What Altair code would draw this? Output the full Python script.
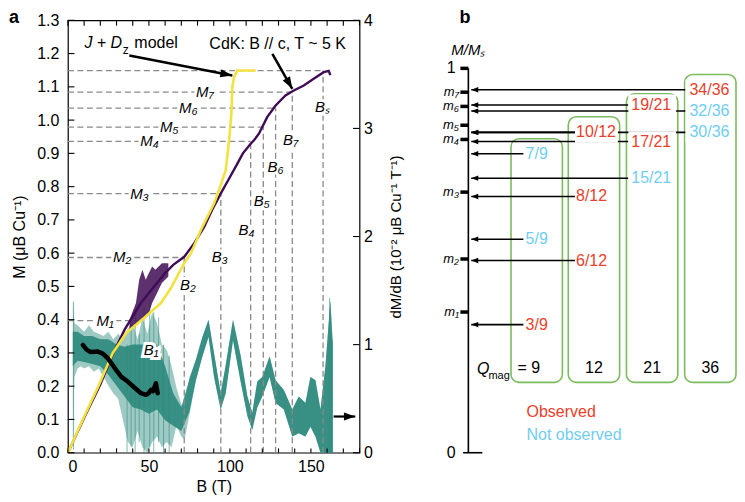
import math
import altair as alt
import pandas as pd

FONT = "Liberation Sans"
PURPLE = "#3f0d55"
YELLOW = "#f1e23f"
TEAL = "#2b8a7c"
RED = "#e8412b"
BLUE = "#6fcdf2"
GREEN = "#7cbc5e"
DASH = "#8a8a8a"

W_A, H_A = 292, 433
W_B = 268
B_MAX, M_MAX, V_MAX = 180, 1.3, 4
Q_X_MAX, Q_Y_MAX = 4.6, 1.125

# ---------------- panel a data ----------------
cdk_B = [0, 10, 20, 28, 35, 40, 45, 50, 55, 60, 65, 71.8, 78, 84.1, 89, 94.3, 99, 104.6, 108,
         112.8, 115, 117.9, 123, 128.2, 134.3, 139.4, 145.6, 151.7, 157.9, 161, 162]
cdk_M = [0, 0.105, 0.205, 0.3, 0.37, 0.41, 0.45, 0.48, 0.51, 0.54, 0.565, 0.589, 0.63, 0.679, 0.73,
         0.779, 0.82, 0.869, 0.9, 0.929, 0.94, 0.959, 1.009, 1.044, 1.074, 1.089, 1.104, 1.124,
         1.144, 1.148, 1.135]
noise_B = [38, 42, 44, 46, 48, 50, 52, 54, 56, 58, 62]
noise_lo = [0.37, 0.38, 0.39, 0.40, 0.41, 0.42, 0.45, 0.47, 0.49, 0.51, 0.53]
noise_hi = [0.40, 0.45, 0.52, 0.55, 0.52, 0.54, 0.56, 0.55, 0.56, 0.57, 0.57]

model_B = [0, 9.2, 18.8, 27.7, 36, 47, 57.4, 63.6, 71.8, 76, 82, 90.2, 94, 97.4, 99.5, 100.9,
           101.5, 102.5, 104.6, 116]
model_M = [0, 0.1, 0.2, 0.3, 0.36, 0.405, 0.45, 0.495, 0.57, 0.6, 0.669, 0.749, 0.8, 0.849,
           0.939, 1.019, 1.099, 1.129, 1.149, 1.149]

black_B = [9.2, 11.5, 14, 18.5, 21.5, 24.6, 27, 29.7, 33, 36.9, 41, 45.1, 48.2, 50, 51.3, 52.5,
           54.3, 55, 55.4]
black_M = [0.324, 0.31, 0.303, 0.304, 0.298, 0.284, 0.268, 0.249, 0.228, 0.214, 0.196, 0.179,
           0.174, 0.18, 0.189, 0.185, 0.209, 0.19, 0.179]

# dM/dB scatter envelope (right axis units)
teal_B = [3, 4, 6, 8, 10, 13, 16, 19, 22, 25, 28, 31, 34, 37, 40, 43, 46, 49, 52, 55, 58, 61, 64,
          67, 70, 72, 75, 79, 83, 86.8, 90.2, 94.3, 97.4, 101.9, 106.6, 110.8, 113.8, 116.9, 120,
          124.5, 128.2, 133.3, 138.5, 142.5, 146.6, 149.7, 152.8, 155.9, 159, 162, 163.5]
teal_lo = [0.05, 0.70, 0.78, 0.80, 0.78, 0.80, 0.75, 0.78, 0.70, 0.62, 0.55, 0.50, 0.30, 0.10,
           0.05, 0.20, 0.05, 0.00, 0.10, 0.15, 0.05, 0.10, 0.05, 0.25, 0.15, 0.12, 0.35, 0.67,
           0.89, 1.07, 0.70, 0.40, 0.55, 1.04, 0.66, 0.34, 0.21, 0.42, 0.52, 0.70, 0.46, 0.40,
           0.15, 0.18, 0.15, 0.24, 0.15, 0.00, 0.00, 0.00, 0.00]
teal_hi = [1.40, 1.20, 1.18, 1.15, 1.12, 1.18, 1.12, 1.10, 1.08, 1.12, 1.05, 1.10, 1.05, 1.15,
           1.20, 1.05, 1.25, 1.10, 1.30, 1.20, 1.00, 0.95, 0.80, 0.60, 0.45, 0.40, 0.70, 0.86,
           1.07, 1.23, 0.92, 0.55, 0.81, 1.23, 0.90, 0.52, 0.37, 0.66, 0.70, 0.89, 0.67, 0.58,
           0.40, 0.52, 0.46, 0.70, 0.67, 0.40, 0.81, 1.41, 1.00]
dense_B = [3, 6, 10, 15, 20, 25, 30, 35, 40, 45, 50, 55, 60, 65, 70, 75]
dense_lo = [0.80, 0.85, 0.84, 0.82, 0.80, 0.72, 0.62, 0.52, 0.42, 0.40, 0.36, 0.40, 0.30, 0.25,
            0.20, 0.38]
dense_hi = [1.12, 1.12, 1.08, 1.08, 1.05, 1.05, 1.00, 0.98, 1.00, 1.00, 1.00, 1.00, 0.80, 0.55,
            0.42, 0.68]
spike_B = [3.5, 36.5, 39, 41.5, 44, 47, 50.5, 53, 56, 59, 62.5, 161.5, 163]
spike_lo = [0.03, 0.0, 0.05, 0.0, 0.1, 0.0, 0.05, 0.0, 0.1, 0.0, 0.0, 0.0, 0.0]
spike_hi = [1.40, 1.0, 1.2, 1.3, 1.1, 1.35, 1.4, 1.3, 1.25, 1.0, 0.9, 1.43, 1.05]

ref_B = [43, 71.8, 94.4, 112.8, 120.6, 128.2, 138.5, 157.5]
ref_M = [0.397, 0.587, 0.779, 0.936, 0.979, 1.036, 1.084, 1.149]
M_labels = ["M₁", "M₂", "M₃", "M₄", "M₅", "M₆", "M₇"]
M_label_B = [23, 33.4, 44.2, 50.3, 62.6, 74.3, 84.5]
B_labels = ["B₁", "B₂", "B₃", "B₄", "B₅", "B₆", "B₇", "Bₛ"]
B_label_B = [51.3, 74, 93.7, 110.3, 119.6, 128.2, 137.4, 157.1]
B_label_M = [0.309, 0.504, 0.588, 0.669, 0.756, 0.858, 0.939, 1.038]

B_ticks = [0, 10, 20, 30, 40, 50, 60, 70, 80, 90, 100, 110, 120, 130, 140, 150, 160, 170, 180]
M_ticks = [0.0, 0.1, 0.2, 0.3, 0.4, 0.5, 0.6, 0.7, 0.8, 0.9, 1.0, 1.1, 1.2, 1.3]
V_ticks = [0, 1, 2, 3, 4]
B_labels_axis = [0, 50, 100, 150]

# annotation arrows (tail -> tip)
arr_B1 = [37.9, 126.2]
arr_M1 = [1.194, 1.199]
arr_B2 = [101.5, 138.5]
arr_M2 = [1.134, 1.094]
right_arrow_B = [164, 177.4]
right_arrow_V = 0.335

# ---------------- panel b data ----------------
Q_cols = [9, 12, 21, 36]
box_left = [0.733, 1.717, 2.717, 3.717]
box_width = 0.883
box_top = [0.817, 0.874, 0.934, 0.984]
box_bottom = 0.183
line_end_col = [0.95, 1.833, 2.75, 3.733]
label_left_col = [0.983, 1.85, 2.8, 3.8]
frac_num = [3, 5, 7, 6, 8, 10, 15, 17, 19, 30, 32, 34]
frac_den = [9, 9, 9, 12, 12, 12, 21, 21, 21, 36, 36, 36]
frac_obs = [True, False, False, True, True, True, False, True, True, False, False, True]
m_ticks = [0.366, 0.504, 0.678, 0.815, 0.852, 0.901, 0.938]
m_names = ["m₁", "m₂", "m₃", "m₄", "m₅", "m₆", "m₇"]

# ---------------- scales & axes ----------------
xs = alt.Scale(domain=[0, B_MAX], nice=False, zero=False)
ys = alt.Scale(domain=[0, M_MAX], nice=False, zero=False)
vs = alt.Scale(domain=[0, V_MAX], nice=False, zero=False)
qx = alt.Scale(domain=[0, Q_X_MAX], nice=False, zero=False)
qy = alt.Scale(domain=[0, Q_Y_MAX], nice=False, zero=False)

x_axis = alt.Axis(values=B_labels_axis, ticks=False, domain=False, grid=False,
                  labelFontSize=16, labelPadding=6, labelColor="black",
                  title="B (T)", titleFontSize=16, titleFontWeight="normal",
                  titlePadding=4, titleColor="black")
m_axis = alt.Axis(orient="left", values=M_ticks, format=".1f", ticks=False,
                  domain=False, grid=False, labelFontSize=16, labelPadding=9,
                  labelColor="black", title="M (μB Cu⁻¹)", titleFontSize=16,
                  titleFontWeight="normal", titlePadding=9, titleColor="black")
v_axis = alt.Axis(orient="right", values=V_ticks, ticks=False, domain=False, grid=False,
                  labelFontSize=16, labelPadding=4, labelColor="black",
                  title="dM/dB (10⁻² μB Cu⁻¹ T⁻¹)", titleFontSize=15,
                  titleFontWeight="normal", titleAngle=270, titlePadding=31,
                  titleColor="black")

PX_B = W_A / B_MAX
PX_M = H_A / M_MAX

HEAD_R = "M0,0L-2,-0.7L-2,0.7Z"
HEAD_L = "M0,0L2.2,-0.85L2.2,0.85Z"


def X(f):
    return alt.X(f, type="quantitative", scale=xs, axis=x_axis)


def Y(f):
    return alt.Y(f, type="quantitative", scale=ys, axis=m_axis)


def V(f):
    return alt.Y(f, type="quantitative", scale=vs, axis=v_axis)


# ---- v group (right axis) ----
teal_df = pd.DataFrame({"B": teal_B, "lo": teal_lo, "hi": teal_hi})
i79 = teal_B.index(79)
core_df = pd.DataFrame({"B": dense_B + teal_B[i79:], "lo": dense_lo + teal_lo[i79:],
                        "hi": dense_hi + teal_hi[i79:]})
spike_df = pd.DataFrame({"B": spike_B, "lo": spike_lo, "hi": spike_hi})

teal_outer = alt.Chart(teal_df).mark_area(color=TEAL, opacity=0.45).encode(
    x=X("B"), y=V("lo"), y2="hi")
teal_core = alt.Chart(core_df).mark_area(color=TEAL, opacity=0.9).encode(
    x=X("B"), y=V("lo"), y2="hi")
teal_spikes = alt.Chart(spike_df).mark_rule(color=TEAL, strokeWidth=1, opacity=0.6).encode(
    x=X("B"), y=V("lo"), y2="hi")
ra_df = pd.DataFrame({"B1": [right_arrow_B[0]], "B2": [right_arrow_B[1]], "v": [right_arrow_V],
                      "ang": [0.0]})
right_arrow = alt.Chart(ra_df).mark_rule(color="black", strokeWidth=2.2).encode(
    x=X("B1"), x2="B2", y=V("v"))
right_head = alt.Chart(ra_df).mark_point(shape=HEAD_R, filled=True, size=130, color="black",
                                         opacity=1).encode(
    x=X("B2"), y=V("v"), angle=alt.Angle("ang:Q", scale=None))
vt_df = pd.DataFrame({"v": V_ticks, "b0": [B_MAX - 4] * len(V_ticks), "b1": [B_MAX] * len(V_ticks)})
v_ticks = alt.Chart(vt_df).mark_rule(color="black", strokeWidth=1.1).encode(
    x=X("b0"), x2="b1", y=V("v"))

v_group = alt.layer(teal_outer, teal_core, teal_spikes, right_arrow, right_head, v_ticks)

# ---- M group (left axis) ----
ref_df = pd.DataFrame({"B": ref_B, "M": ref_M, "zero": [0] * len(ref_B)})
h_dash = alt.Chart(ref_df).mark_rule(color=DASH, strokeWidth=1.3, strokeDash=[6, 3.5]).encode(
    x=X("zero"), x2="B", y=Y("M"))
v_dash = alt.Chart(ref_df.iloc[1:]).mark_rule(color=DASH, strokeWidth=1.3,
                                              strokeDash=[6, 3.5]).encode(
    x=X("B"), y=Y("zero"), y2="M")

noise_df = pd.DataFrame({"B": noise_B, "lo": noise_lo, "hi": noise_hi})
noise = alt.Chart(noise_df).mark_area(color=PURPLE, opacity=0.85).encode(
    x=X("B"), y=Y("lo"), y2="hi")
cdk_df = pd.DataFrame({"B": cdk_B, "M": cdk_M})
cdk_line = alt.Chart(cdk_df).mark_line(color=PURPLE, strokeWidth=2.4).encode(
    x=X("B"), y=Y("M"))
model_df = pd.DataFrame({"B": model_B, "M": model_M})
model_line = alt.Chart(model_df).mark_line(color=YELLOW, strokeWidth=2.6).encode(
    x=X("B"), y=Y("M"))
black_df = pd.DataFrame({"B": black_B, "M": black_M})
black_line = alt.Chart(black_df).mark_line(color="black", strokeWidth=4.5,
                                           strokeCap="round", strokeJoin="round").encode(
    x=X("B"), y=Y("M"))

ml_df = pd.DataFrame({"t": M_labels, "B": M_label_B, "M": ref_M[:7]})
bl_df = pd.DataFrame({"t": B_labels, "B": B_label_B, "M": B_label_M})
lab_all = pd.concat([ml_df, bl_df], ignore_index=True)
halo = alt.Chart(lab_all).mark_text(fontSize=15, fontStyle="italic", color="white",
                                    stroke="white", strokeWidth=6, align="center",
                                    baseline="middle").encode(
    x=X("B"), y=Y("M"), text="t:N")
labels = alt.Chart(lab_all).mark_text(fontSize=15, fontStyle="italic", color="black",
                                      align="center", baseline="middle").encode(
    x=X("B"), y=Y("M"), text="t:N")

ann1 = alt.Chart(pd.DataFrame({"t": ["J + D"], "B": [10.2], "M": [1.216]})).mark_text(
    fontSize=16, fontStyle="italic", align="left", baseline="alphabetic", color="black").encode(
    x=X("B"), y=Y("M"), text="t:N")
ann2 = alt.Chart(pd.DataFrame({"t": ["z"], "B": [33.9], "M": [1.200]})).mark_text(
    fontSize=12, align="left", baseline="alphabetic", color="black").encode(
    x=X("B"), y=Y("M"), text="t:N")
ann3 = alt.Chart(pd.DataFrame({"t": ["model", "CdK: B // c, T ~ 5 K"], "B": [41, 87.3],
                               "M": [1.216, 1.215]})).mark_text(
    fontSize=16, align="left", baseline="alphabetic", color="black").encode(
    x=X("B"), y=Y("M"), text="t:N")

arr_df = pd.DataFrame({"B1": arr_B1, "M1": arr_M1, "B2": arr_B2, "M2": arr_M2})
arr_df["ang"] = [math.degrees(math.atan2(-(m2 - m1) * PX_M, (b2 - b1) * PX_B))
                 for b1, m1, b2, m2 in zip(arr_B1, arr_M1, arr_B2, arr_M2)]
arr_lines = alt.Chart(arr_df).mark_rule(color="black", strokeWidth=2.5).encode(
    x=X("B1"), y=Y("M1"), x2="B2", y2="M2")
arr_heads = alt.Chart(arr_df).mark_point(shape=HEAD_R, filled=True, size=144, color="black",
                                         opacity=1).encode(
    x=X("B2"), y=Y("M2"), angle=alt.Angle("ang:Q", scale=None))

bt_df = pd.DataFrame({"B": B_ticks, "y0": [0] * len(B_ticks), "y1": [0.013] * len(B_ticks),
                      "t0": [M_MAX] * len(B_ticks), "t1": [M_MAX - 0.016] * len(B_ticks)})
bottom_ticks = alt.Chart(bt_df).mark_rule(color="black", strokeWidth=1.1).encode(
    x=X("B"), y=Y("y0"), y2="y1")
top_ticks = alt.Chart(bt_df).mark_rule(color="black", strokeWidth=1.1).encode(
    x=X("B"), y=Y("t0"), y2="t1")
lt_df = pd.DataFrame({"M": M_ticks, "b0": [0] * len(M_ticks), "b1": [4] * len(M_ticks)})
left_ticks = alt.Chart(lt_df).mark_rule(color="black", strokeWidth=1.1).encode(
    x=X("b0"), x2="b1", y=Y("M"))

a_lab = alt.Chart(pd.DataFrame({"t": ["a"]})).mark_text(
    fontSize=18, fontWeight="bold", align="left", baseline="alphabetic", color="black").encode(
    x=alt.value(-59), y=alt.value(3), text="t:N")

m_group = alt.layer(h_dash, v_dash, noise, cdk_line, model_line, black_line, halo, labels,
                    ann1, ann2, ann3, arr_lines, arr_heads, bottom_ticks, top_ticks,
                    left_ticks, a_lab)

panel_a = alt.layer(v_group, m_group).resolve_scale(y="independent").properties(
    width=W_A, height=H_A, view=alt.ViewBackground(stroke="black", strokeWidth=1.2))

# ---------------- panel b ----------------
QX = lambda f: alt.X(f, type="quantitative", scale=qx, axis=None)
QY = lambda f: alt.Y(f, type="quantitative", scale=qy, axis=None)

box_df = pd.DataFrame({"Q": Q_cols, "x0": box_left,
                       "x1": [l + box_width for l in box_left],
                       "top": box_top, "bot": [box_bottom] * 4,
                       "xc": [l + box_width / 2 for l in box_left]})
boxes = alt.Chart(box_df).mark_rect(cornerRadius=8, fill="white", stroke=GREEN,
                                    strokeWidth=1.6).encode(
    x=QX("x0"), x2="x1", y=QY("bot"), y2="top")

col_index = {q: i for i, q in enumerate(Q_cols)}
fr_rows = []
for n, d, o in zip(frac_num, frac_den, frac_obs):
    ci = col_index[d]
    fr_rows.append({"t": f"{n}/{d}", "v": n / d, "obs": o,
                    "x0": 0.05, "xe": line_end_col[ci], "xl": label_left_col[ci],
                    "bx1": box_left[ci] + box_width - 0.03,
                    "vlo": n / d - 0.027, "vhi": n / d + 0.027,
                    "col": RED if o else BLUE})
fr_df = pd.DataFrame(fr_rows)

arrows_b = alt.Chart(fr_df).mark_rule(color="black", strokeWidth=1.6).encode(
    x=QX("x0"), x2="xe", y=QY("v"))
bg_b = alt.Chart(fr_df).mark_rect(fill="white").encode(
    x=QX("xe"), x2="bx1", y=QY("vlo"), y2="vhi")
frac_text = alt.Chart(fr_df).mark_text(fontSize=16, align="left", baseline="middle").encode(
    x=QX("xl"), y=QY("v"), text="t:N", color=alt.Color("col:N", scale=None))
heads_b = alt.Chart(fr_df).mark_point(shape=HEAD_L, filled=True, size=40, color="black",
                                      opacity=1).encode(x=QX("x0"), y=QY("v"))

axis_df = pd.DataFrame({"x": [0], "y0": [0], "y1": [1], "xa": [-0.09], "xb": [0.24]})
axis_line = alt.Chart(axis_df).mark_rule(color="black", strokeWidth=1.6).encode(
    x=QX("x"), y=QY("y0"), y2="y1")
zero_line = alt.Chart(axis_df).mark_rule(color="black", strokeWidth=1.6).encode(
    x=QX("xa"), x2="xb", y=QY("y0"))
tk_df = pd.DataFrame({"v": m_ticks + [1], "x0": [-0.137] * 8, "x1": [0] * 8})
ticks_b = alt.Chart(tk_df).mark_rule(color="black", strokeWidth=3.5).encode(
    x=QX("x0"), x2="x1", y=QY("v"))
ml_b_df = pd.DataFrame({"t": m_names, "v": m_ticks, "x": [-0.16] * 7})
m_lab_b = alt.Chart(ml_b_df).mark_text(fontSize=13, fontStyle="italic", align="right",
                                       baseline="middle", color="black").encode(
    x=QX("x"), y=QY("v"), text="t:N")
num_df = pd.DataFrame({"t": ["0", "1"], "v": [0, 1], "x": [-0.22, -0.22]})
num_lab = alt.Chart(num_df).mark_text(fontSize=16, align="right", baseline="middle",
                                      color="black").encode(x=QX("x"), y=QY("v"), text="t:N")
mms = alt.Chart(pd.DataFrame({"t": ["M/Mₛ"], "x": [0.0], "v": [1.047]})).mark_text(
    fontSize=15, fontStyle="italic", align="center", baseline="middle", color="black").encode(
    x=QX("x"), y=QY("v"), text="t:N")

q_df = pd.DataFrame({"t": [str(q) for q in Q_cols], "x": box_df["xc"], "v": [0.221] * 4})
q_lab = alt.Chart(q_df.iloc[1:]).mark_text(fontSize=16, align="center", baseline="middle",
                                           color="black").encode(
    x=QX("x"), y=QY("v"), text="t:N")
q_first = alt.Chart(q_df.iloc[:1].assign(t="= 9")).mark_text(
    fontSize=16, align="center", baseline="middle", color="black", dx=-8).encode(
    x=QX("x"), y=QY("v"), text="t:N")
qmag1 = alt.Chart(pd.DataFrame({"t": ["Q"], "x": [0.15], "v": [0.206]})).mark_text(
    fontSize=16, fontStyle="italic", align="left", baseline="alphabetic", color="black").encode(
    x=QX("x"), y=QY("v"), text="t:N")
qmag2 = alt.Chart(pd.DataFrame({"t": ["mag"], "x": [0.345], "v": [0.193]})).mark_text(
    fontSize=11, align="left", baseline="alphabetic", color="black").encode(
    x=QX("x"), y=QY("v"), text="t:N")
leg_df = pd.DataFrame({"t": ["Observed", "Not observed"], "x": [1.0, 1.0], "v": [0.106, 0.047],
                       "col": [RED, BLUE]})
legend_b = alt.Chart(leg_df).mark_text(fontSize=16, align="left", baseline="middle").encode(
    x=QX("x"), y=QY("v"), text="t:N", color=alt.Color("col:N", scale=None))
b_lab = alt.Chart(pd.DataFrame({"t": ["b"]})).mark_text(
    fontSize=18, fontWeight="bold", align="left", baseline="alphabetic", color="black").encode(
    x=alt.value(-9), y=alt.value(3), text="t:N")

panel_b = alt.layer(boxes, arrows_b, bg_b, frac_text, heads_b, axis_line, zero_line, ticks_b,
                    m_lab_b, num_lab, mms, q_lab, q_first, qmag1, qmag2, legend_b,
                    b_lab).properties(width=W_B, height=H_A)

chart = alt.hconcat(panel_a, panel_b, spacing=109, bounds="flush").properties(
    padding={"left": 0, "top": 0, "right": 0, "bottom": 0}
).configure(font=FONT).configure_view(stroke=None)

chart.save("out.html", embed_options={"renderer": "svg", "actions": False})
